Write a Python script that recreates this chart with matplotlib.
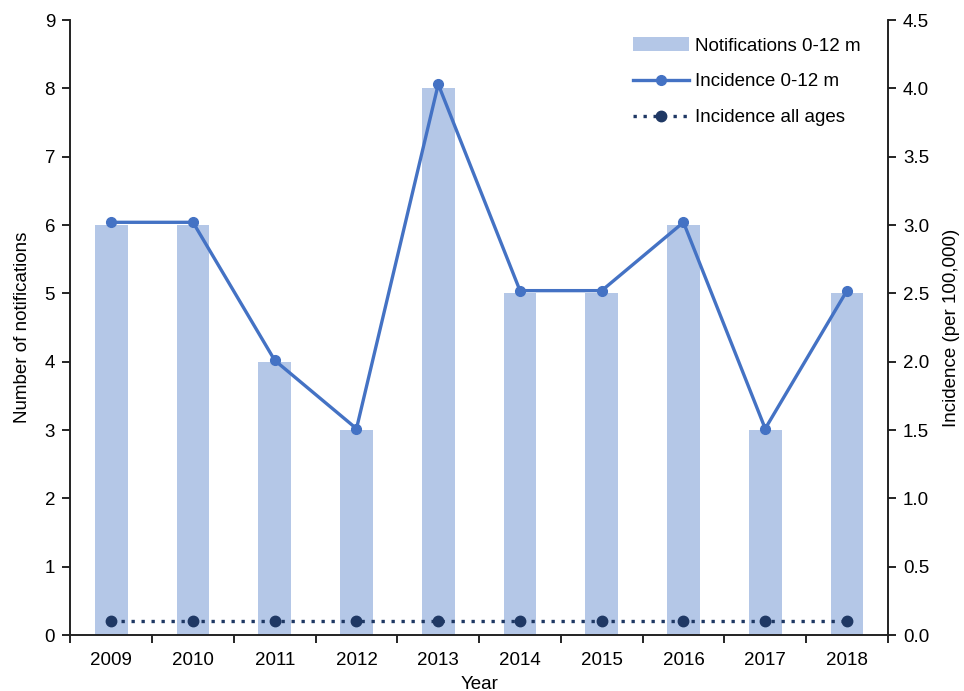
import numpy as np
import matplotlib.pyplot as plt

years = ['2009', '2010', '2011', '2012', '2013', '2014', '2015', '2016', '2017', '2018']
notifications = [6, 6, 4, 3, 8, 5, 5, 6, 3, 5]
incidence_infant = [3.02, 3.02, 2.01, 1.51, 4.03, 2.52, 2.52, 3.02, 1.51, 2.52]
incidence_all = [0.1, 0.1, 0.1, 0.1, 0.1, 0.1, 0.1, 0.1, 0.1, 0.1]

plt.rcParams['font.family'] = ['Liberation Sans', 'DejaVu Sans']
plt.rcParams['font.size'] = 13.5

x = np.arange(len(years))

fig, ax = plt.subplots(figsize=(9.64, 6.91), dpi=100)
fig.subplots_adjust(left=0.073, right=0.921, top=0.971, bottom=0.081)
ax2 = ax.twinx()

b = ax.bar(x, notifications, width=0.4, color='#B4C7E7', label='Notifications 0-12 m', zorder=1)
l1, = ax2.plot(x, incidence_infant, color='#4472C4', lw=2.4, marker='o', ms=7,
               label='Incidence 0-12 m', zorder=3)
l2, = ax2.plot(x, incidence_all, color='#1F3864', lw=2.4, ls=(0, (1, 2)), marker='o', ms=7.5,
               label='Incidence all ages', zorder=3)

ax.set_xlim(-0.5, len(years) - 0.5)
ax.set_ylim(0, 9)
ax.set_yticks(range(0, 10))
ax2.set_ylim(0, 4.5)
ax2.set_yticks(np.arange(0, 4.51, 0.5))
ax2.set_yticklabels([f'{v:.1f}' for v in np.arange(0, 4.51, 0.5)])

ax.set_xticks(x)
ax.set_xticklabels(years)
ax.set_xticks(np.arange(-0.5, len(years), 1), minor=True)
ax.tick_params(axis='x', which='major', length=0, pad=12)
ax.tick_params(axis='x', which='minor', length=6, direction='out', width=1.2)
ax.tick_params(axis='y', length=6, width=1.2, direction='out', pad=5)
ax2.tick_params(axis='y', length=6, width=1.2, direction='out', pad=5)

for a in (ax, ax2):
    a.spines['top'].set_visible(False)
    for s in ('left', 'right', 'bottom'):
        a.spines[s].set_linewidth(1.2)
        a.spines[s].set_color('#222222')

ax.set_xlabel('Year', labelpad=5)
ax.set_ylabel('Number of notifications', labelpad=10)
ax2.set_ylabel('Incidence (per 100,000)', labelpad=10)

ax.legend([b, l1, l2], ['Notifications 0-12 m', 'Incidence 0-12 m', 'Incidence all ages'],
          loc='upper right', frameon=False, fontsize=13.5, handlelength=3.0,
          labelspacing=1.0, borderaxespad=0.2, handletextpad=0.3,
          bbox_to_anchor=(0.98, 0.99))

fig.savefig('out.png', dpi=100)
